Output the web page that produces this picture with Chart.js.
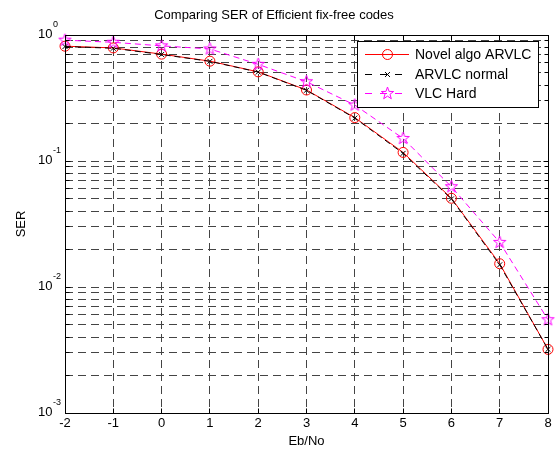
<!DOCTYPE html>
<html>
<head>
<meta charset="utf-8">
<title>Comparing SER of Efficient fix-free codes</title>
<script src="https://cdn.jsdelivr.net/npm/chart.js@4.4.1/dist/chart.umd.min.js"></script>
<style>
  html, body { margin: 0; padding: 0; background: #fff; }
  #chart { display: block; }
</style>
</head>
<body>
<canvas id="chart" width="556" height="453"></canvas>
<script>
  // ========================================
  // Data
  // ========================================

  const ebNo      = [-2, -1, 0, 1, 2, 3, 4, 5, 6, 7, 8];
  const serNovel  = [0.815, 0.79, 0.705, 0.62, 0.51, 0.366, 0.221, 0.117, 0.0506, 0.0153, 0.0032];
  const serNormal = [0.81, 0.785, 0.70, 0.618, 0.508, 0.364, 0.219, 0.115, 0.0500, 0.0150, 0.0032];
  const serHard   = [0.91, 0.875, 0.82, 0.775, 0.585, 0.426, 0.278, 0.151, 0.0625, 0.0226, 0.0055];

  const seriesNames = ['Novel algo ARVLC', 'ARVLC normal', 'VLC Hard'];
  const xTicks = [-2, -1, 0, 1, 2, 3, 4, 5, 6, 7, 8];
  const yDecades = [-3, -2, -1, 0];
  const yMinorSteps = [1, 2, 3, 4, 5, 6, 7, 8, 9];

  const FONT = '"Liberation Sans", Arial, Helvetica, sans-serif';
  const RED = '#ff0000';
  const MAGENTA = '#ff00ff';

  function toPoints(ys) {
    return ebNo.map((x, i) => ({ x: x, y: ys[i] }));
  }

  // MATLAB-like pentagram marker
  function makeStar(color) {
    const c = document.createElement('canvas');
    c.width = 17;
    c.height = 17;
    const g = c.getContext('2d');
    const R = 6.5, r = 2.6;
    g.beginPath();
    for (let k = 0; k < 10; k++) {
      const rad = k % 2 === 0 ? R : r;
      const a = -Math.PI / 2 + k * Math.PI / 5;
      const px = 8.5 + rad * Math.cos(a);
      const py = 8.5 + rad * Math.sin(a);
      if (k === 0) g.moveTo(px, py); else g.lineTo(px, py);
    }
    g.closePath();
    g.strokeStyle = color;
    g.lineWidth = 1;
    g.stroke();
    return c;
  }
  const starMarker = makeStar(MAGENTA);

  function align(p) {
    return Math.round(p - 0.5) + 0.5;
  }

  // ========================================
  // Plugins
  // ========================================

  const whiteBackground = {
    id: 'whiteBackground',
    beforeDraw(chart) {
      const ctx = chart.ctx;
      ctx.save();
      ctx.fillStyle = '#fff';
      ctx.fillRect(0, 0, chart.width, chart.height);
      ctx.restore();
    }
  };

  // Axes box, inward ticks, 10^n labels and the legend
  const matlabAxes = {
    id: 'matlabAxes',
    afterDraw(chart) {
      const ctx = chart.ctx;
      const a = chart.chartArea;
      const xs = chart.scales.x;
      const ys = chart.scales.y;
      const L = align(a.left), R = align(a.right), T = align(a.top), B = align(a.bottom);

      ctx.save();
      ctx.strokeStyle = '#000';
      ctx.lineWidth = 1;
      ctx.setLineDash([]);
      ctx.strokeRect(L, T, R - L, B - T);

      // x ticks (bottom and top, pointing inward)
      ctx.beginPath();
      xTicks.forEach(v => {
        const px = align(xs.getPixelForValue(v));
        ctx.moveTo(px, B); ctx.lineTo(px, B - 5);
        ctx.moveTo(px, T); ctx.lineTo(px, T + 5);
      });
      // y ticks (left and right)
      ys.ticks.forEach(t => {
        const py = align(ys.getPixelForValue(t.value));
        const len = t.major ? 5 : 4;
        ctx.moveTo(L, py); ctx.lineTo(L + len, py);
        ctx.moveTo(R, py); ctx.lineTo(R - len, py);
      });
      ctx.stroke();

      // y tick labels 10^n
      ctx.fillStyle = '#000';
      ctx.textBaseline = 'middle';
      yDecades.forEach(e => {
        const py = ys.getPixelForValue(Math.pow(10, e));
        ctx.font = '13px ' + FONT;
        ctx.textAlign = 'right';
        ctx.fillText('10', 52.5, py - 1);
        ctx.font = '9px ' + FONT;
        ctx.textAlign = 'left';
        ctx.fillText(String(e), 53, py - 10);
      });

      // legend
      const lx = 357.5, ly = 41.5, lw = 181, lh = 66;
      ctx.fillStyle = '#fff';
      ctx.fillRect(lx, ly, lw, lh);
      ctx.strokeStyle = '#000';
      ctx.strokeRect(lx, ly, lw, lh);

      const rows = [54, 74, 93];
      chart.data.datasets.forEach((ds, i) => {
        const y = rows[i] + 0.5;
        ctx.save();
        ctx.strokeStyle = ds.borderColor;
        ctx.lineWidth = 1;
        if (ds.borderDash && ds.borderDash.length) {
          ctx.setLineDash([7, 8]);
        }
        ctx.beginPath();
        ctx.moveTo(365, y);
        ctx.lineTo(409, y);
        ctx.stroke();
        ctx.setLineDash([]);
        ctx.strokeStyle = ds.pointBorderColor;
        ctx.fillStyle = 'rgba(0,0,0,0)';
        Chart.helpers.drawPoint(ctx, {
          pointStyle: ds.pointStyle,
          radius: ds.pointRadius,
          borderWidth: 1,
          rotation: 0
        }, 387.5, y);
        ctx.restore();

        ctx.fillStyle = '#000';
        ctx.font = '14px ' + FONT;
        ctx.textAlign = 'left';
        ctx.textBaseline = 'middle';
        ctx.fillText(seriesNames[i], 415, rows[i] + 1);
      });
      ctx.restore();
    }
  };

  // ========================================
  // Chart
  // ========================================

  const datasets = [
    {
      label: seriesNames[0],
      data: toPoints(serNovel),
      borderColor: RED,
      backgroundColor: 'transparent',
      borderWidth: 1,
      pointStyle: 'circle',
      pointRadius: 5,
      pointBorderWidth: 1,
      pointBorderColor: RED,
      pointBackgroundColor: 'transparent',
      order: 3
    },
    {
      label: seriesNames[1],
      data: toPoints(serNormal),
      borderColor: '#000',
      backgroundColor: 'transparent',
      borderWidth: 1,
      borderDash: [6, 4],
      pointStyle: 'crossRot',
      pointRadius: 3.5,
      pointBorderWidth: 1,
      pointBorderColor: '#000',
      order: 2
    },
    {
      label: seriesNames[2],
      data: toPoints(serHard),
      borderColor: MAGENTA,
      backgroundColor: 'transparent',
      borderWidth: 1,
      borderDash: [6, 4],
      pointStyle: starMarker,
      pointRadius: 6,
      pointBorderWidth: 1,
      pointBorderColor: MAGENTA,
      order: 1
    }
  ];

  const gridOpts = {
    color: '#444',
    lineWidth: 1,
    drawTicks: false
  };

  new Chart(document.getElementById('chart'), {
    type: 'line',
    data: { datasets: datasets },
    plugins: [whiteBackground, matlabAxes],
    options: {
      responsive: false,
      animation: false,
      devicePixelRatio: 1,
      layout: { padding: { left: 0, right: 8, top: 0, bottom: 0 } },
      elements: { line: { tension: 0 } },
      datasets: { line: { clip: false } },
      plugins: {
        legend: { display: false },
        tooltip: { enabled: false },
        title: {
          display: true,
          text: 'Comparing SER of Efficient fix-free codes',
          color: '#000',
          font: { family: FONT, size: 13, weight: 'normal', lineHeight: 1.2 },
          padding: { top: 8, bottom: 11.4 }
        }
      },
      scales: {
        x: {
          type: 'linear',
          min: -2,
          max: 8,
          ticks: {
            stepSize: 1,
            color: '#000',
            padding: 3,
            font: { family: FONT, size: 13 }
          },
          grid: gridOpts,
          border: { display: false, dash: [8, 5] },
          title: {
            display: true,
            text: 'Eb/No',
            color: '#000',
            font: { family: FONT, size: 13, lineHeight: 1.2 },
            padding: { top: 0, bottom: 4 }
          },
          afterFit(scale) { scale.height = 40; }
        },
        y: {
          type: 'logarithmic',
          min: 0.001,
          max: 1,
          ticks: { display: false },
          grid: gridOpts,
          border: { display: false, dash: [8, 5] },
          title: {
            display: true,
            text: 'SER',
            color: '#000',
            font: { family: FONT, size: 13, lineHeight: 1.2 },
            padding: { top: 14, bottom: 0 }
          },
          afterBuildTicks(scale) {
            const ticks = [];
            yDecades.forEach(e => {
              yMinorSteps.forEach(m => {
                const v = m * Math.pow(10, e);
                if (v <= 1.0000001) ticks.push({ value: v, major: m === 1 });
              });
            });
            scale.ticks = ticks;
          },
          afterFit(scale) { scale.width = 65; }
        }
      }
    }
  });
</script>
</body>
</html>
